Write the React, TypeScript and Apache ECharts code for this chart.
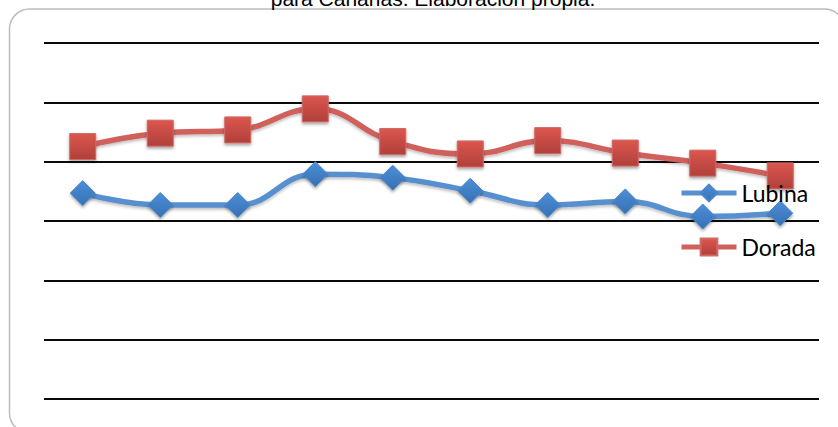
import React, { useEffect, useRef } from "react";
import * as echarts from "echarts";

const categories = ["1", "2", "3", "4", "5", "6", "7", "8", "9", "10"];
const lubina = [6.94, 6.54, 6.54, 7.58, 7.46, 7.02, 6.54, 6.66, 6.15, 6.26];
const dorada = [8.51, 8.96, 9.07, 9.78, 8.68, 8.26, 8.71, 8.29, 7.95, 7.52];
const yMin = 0;
const yMax = 12;
const yInterval = 2;
const seriesNames = ["Lubina", "Dorada"];
const captionText = "para Canarias. Elaboración propia.";

const grad = (top: string, bottom: string) =>
  new echarts.graphic.LinearGradient(0, 0, 0, 1, [
    { offset: 0, color: top },
    { offset: 1, color: bottom },
  ]);

export default function App() {
  const ref = useRef<HTMLDivElement>(null);
  useEffect(() => {
    if (!ref.current) return;
    const chart = echarts.init(ref.current, null, { renderer: "svg" });
    chart.setOption({
      animation: false,
      backgroundColor: "#ffffff",
      grid: { left: 44, right: 19, top: 43, bottom: 28 },
      xAxis: {
        type: "category",
        data: categories,
        boundaryGap: true,
        axisLine: { show: false },
        axisTick: { show: false },
        axisLabel: { show: false },
        splitLine: { show: false },
      },
      yAxis: {
        type: "value",
        min: yMin,
        max: yMax,
        interval: yInterval,
        axisLine: { show: false },
        axisTick: { show: false },
        axisLabel: { show: false },
        splitLine: { show: true, lineStyle: { color: "#0a0a0a", width: 2 } },
      },
      legend: {
        orient: "vertical",
        left: 679,
        top: 181,
        padding: 0,
        itemWidth: 55,
        itemHeight: 21,
        itemGap: 30,
        data: seriesNames,
        lineStyle: { width: 5 },
        textStyle: {
          fontFamily: "Lato",
          fontSize: 23,
          lineHeight: 24,
          color: "#000000",
        },
      },
      graphic: [
        {
          type: "rect",
          z: -10,
          shape: { x: 9.5, y: 9, width: 835, height: 424, r: 20 },
          style: { fill: "none", stroke: "#bdbdbd", lineWidth: 1.5 },
        },
        {
          type: "text",
          x: 433,
          y: -2,
          style: {
            text: captionText,
            fontFamily: "Liberation Sans",
            fontSize: 21,
            fill: "#000000",
            align: "center",
            verticalAlign: "middle",
          },
        },
      ],
      series: [
        {
          name: seriesNames[0],
          type: "line",
          data: lubina,
          smooth: 0.45,
          symbol: "diamond",
          symbolSize: 25,
          lineStyle: {
            color: "#5890cf",
            width: 5.5,
            shadowBlur: 3,
            shadowColor: "rgba(0,0,0,0.25)",
            shadowOffsetY: 2,
          },
          itemStyle: {
            color: grad("#4d8fd8", "#3670b2"),
            borderColor: "#4a86c8",
            borderWidth: 1,
            shadowBlur: 3,
            shadowColor: "rgba(0,0,0,0.35)",
            shadowOffsetY: 2,
          },
        },
        {
          name: seriesNames[1],
          type: "line",
          data: dorada,
          smooth: 0.45,
          symbol: "rect",
          symbolSize: 26,
          lineStyle: {
            color: "#d0605c",
            width: 5.5,
            shadowBlur: 3,
            shadowColor: "rgba(0,0,0,0.25)",
            shadowOffsetY: 2,
          },
          itemStyle: {
            color: grad("#dc564e", "#b0403b"),
            borderColor: "#d06a66",
            borderWidth: 1,
            shadowBlur: 3,
            shadowColor: "rgba(0,0,0,0.35)",
            shadowOffsetY: 2,
          },
        },
      ],
    });
    return () => chart.dispose();
  }, []);
  return (
    <div
      ref={ref}
      style={{ position: "absolute", left: 0, top: 0, width: 838, height: 427, background: "#fff" }}
    />
  );
}
